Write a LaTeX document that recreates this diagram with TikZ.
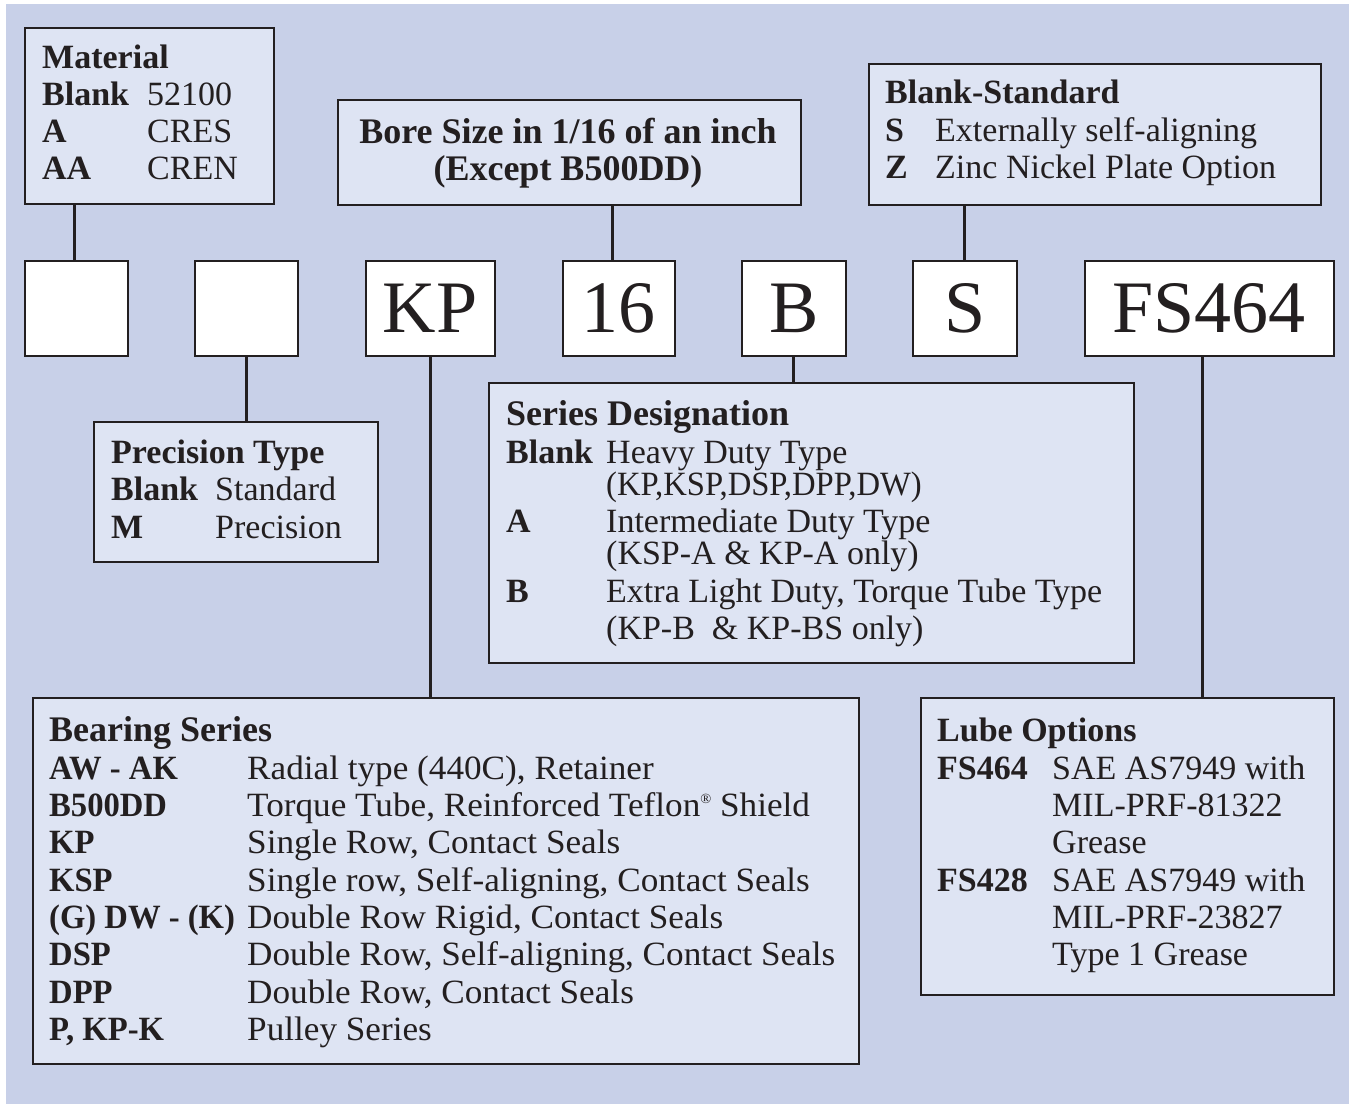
\documentclass[tikz,border=0pt]{standalone}
\usepackage{fontspec}
\setmainfont{Liberation Serif}
\newfontfamily\condfont{Liberation Serif}[FakeStretch=0.96]
\newfontfamily\widefont{Liberation Serif}[FakeStretch=1.035]
\definecolor{bgblue}{RGB}{200,208,232}
\definecolor{boxfill}{RGB}{222,228,243}
\definecolor{edge}{RGB}{35,31,32}
\newcommand{\fsz}{\fontsize{34}{37}\selectfont}
\newcommand{\kvrow}[6]{%
  \node[keytxt] (#1k) at (#2,#4) {#5};
  \node[valtxt] (#1v) at (#3,#4) {#6};}
\newcommand{\bsrow}[6]{%
  \node[keytxt, font=\fsz\condfont\bfseries] (#1k) at (#2,#4) {#5};
  \node[valtxt, font=\fsz\widefont] (#1v) at (#3,#4) {#6};}
\begin{document}
\begin{tikzpicture}[x=1pt,y=-1pt,
  panel/.style={draw=edge, line width=2.5pt, fill=boxfill, anchor=north west, inner sep=0pt},
  letterbox/.style={draw=edge, line width=2.5pt, fill=white, anchor=north west, inner sep=0pt,
    minimum height=95pt, font=\fontsize{74}{74}\selectfont, text=edge},
  link/.style={draw=edge, line width=3pt},
  valtxt/.style={anchor=base west, inner sep=0pt, font=\fsz, text=edge},
  keytxt/.style={anchor=base west, inner sep=0pt, font=\fsz\bfseries, text=edge},
  bigtitle/.style={anchor=base west, inner sep=0pt, font=\fontsize{36}{38}\selectfont\bfseries, text=edge},
  ctxt/.style={anchor=base, inner sep=0pt, font=\fontsize{36}{38}\selectfont\bfseries, text=edge}]
\useasboundingbox (0,0) rectangle (1349,1104);
\fill[white] (0,0) rectangle (1349,1104);
\fill[bgblue] (6,4) rectangle (1349,1104);

% top panels
\node[panel, minimum width=249pt, minimum height=176pt] (mat) at (23.5,26.5) {};
\node[panel, minimum width=463pt, minimum height=105pt] (bore) at (336.5,98.5) {};
\node[panel, minimum width=452pt, minimum height=141pt] (std) at (867.5,62.5) {};

% letter boxes
\node[letterbox, minimum width=103pt] (b1) at (23.5,259.5) {};
\node[letterbox, minimum width=103pt] (b2) at (193.5,259.5) {};
\node[letterbox, minimum width=129pt] (kp) at (364.5,259.5) {KP};
\node[letterbox, minimum width=112pt] (sixteen) at (561.5,259.5) {16};
\node[letterbox, minimum width=104pt] (bb) at (740.5,259.5) {B};
\node[letterbox, minimum width=104pt] (ss) at (911.5,259.5) {S};
\node[letterbox, minimum width=249pt] (fs) at (1083.5,259.5) {FS464};

% lower panels
\node[panel, minimum width=284pt, minimum height=140pt] (prec) at (92.5,420.5) {};
\node[panel, minimum width=645pt, minimum height=280pt] (ser) at (487.5,381.5) {};
\node[panel, minimum width=826pt, minimum height=366pt] (bear) at (31.5,696.5) {};
\node[panel, minimum width=413pt, minimum height=297pt] (lube) at (919.5,696.5) {};

% connectors
\draw[link] ([xshift=-2pt]b1.north) -- ([xshift=-2pt]b1.north |- mat.south);
\draw[link] (b2.south) -- (b2.south |- prec.north);
\draw[link] (kp.south) -- (kp.south |- bear.north);
\draw[link] ([xshift=-6pt]sixteen.north) -- ([xshift=-6pt]sixteen.north |- bore.south);
\draw[link] (bb.south) -- (bb.south |- ser.north);
\draw[link] (ss.north) -- (ss.north |- std.south);
\draw[link] ([xshift=-7pt]fs.south) -- ([xshift=-7pt]fs.south |- lube.north);

% Material
\node[keytxt] (mattitle) at (42,68) {Material};
\kvrow{ma}{42}{147}{105}{Blank}{52100}
\kvrow{mb}{42}{147}{142}{A}{CRES}
\kvrow{mc}{42}{147}{179}{AA}{CREN}

% Bore size
\node[ctxt] (bore1) at (568,143) {Bore Size in 1/16 of an inch};
\node[ctxt] (bore2) at (568,180) {(Except B500DD)};

% Blank-Standard
\node[keytxt] (stdtitle) at (885,103) {Blank-Standard};
\kvrow{sa}{885}{935}{141}{S}{Externally self-aligning}
\kvrow{sb}{885}{935}{178}{Z}{Zinc Nickel Plate Option}

% Precision
\node[keytxt] (prectitle) at (111,463) {Precision Type};
\kvrow{pa}{111}{215}{500}{Blank}{Standard}
\kvrow{pb}{111}{215}{538}{M}{Precision}

% Series designation
\node[bigtitle] (sertitle) at (506,425) {Series Designation};
\kvrow{da}{506}{606}{463}{Blank}{Heavy Duty Type}
\node[valtxt, font=\fsz\condfont] (da2) at (606,495) {(KP,KSP,DSP,DPP,DW)};
\kvrow{db}{506}{606}{532}{A}{Intermediate Duty Type}
\node[valtxt] (db2) at (606,564) {(KSP-A \& KP-A only)};
\kvrow{dc}{506}{606}{602}{B}{Extra Light Duty, Torque Tube Type}
\node[valtxt] (dc2) at (606,639) {(KP-B\ \ \& KP-BS only)};

% Bearing series
\node[bigtitle] (beartitle) at (49,741) {Bearing Series};
\bsrow{ea}{49}{247}{779}{AW - AK}{Radial type (440C), Retainer}
\bsrow{eb}{49}{247}{816}{B500DD}{Torque Tube, Reinforced Teflon{\fontsize{14}{14}\selectfont\raisebox{13pt}{®}} Shield}
\bsrow{ec}{49}{247}{853}{KP}{Single Row, Contact Seals}
\bsrow{ed}{49}{247}{891}{KSP}{Single row, Self-aligning, Contact Seals}
\bsrow{ee}{49}{247}{928}{(G) DW - (K)}{Double Row Rigid, Contact Seals}
\bsrow{ef}{49}{247}{965}{DSP}{Double Row, Self-aligning, Contact Seals}
\bsrow{eg}{49}{247}{1003}{DPP}{Double Row, Contact Seals}
\bsrow{eh}{49}{247}{1040}{P, KP-K}{Pulley Series}

% Lube options
\node[keytxt] (lubetitle) at (937,741) {Lube Options};
\kvrow{la}{937}{1052}{779}{FS464}{SAE AS7949 with}
\node[valtxt] (la2) at (1052,816) {MIL-PRF-81322};
\node[valtxt] (la3) at (1052,853) {Grease};
\kvrow{lb}{937}{1052}{891}{FS428}{SAE AS7949 with}
\node[valtxt] (lb2) at (1052,928) {MIL-PRF-23827};
\node[valtxt] (lb3) at (1052,965) {Type 1 Grease};
\end{tikzpicture}
\end{document}
